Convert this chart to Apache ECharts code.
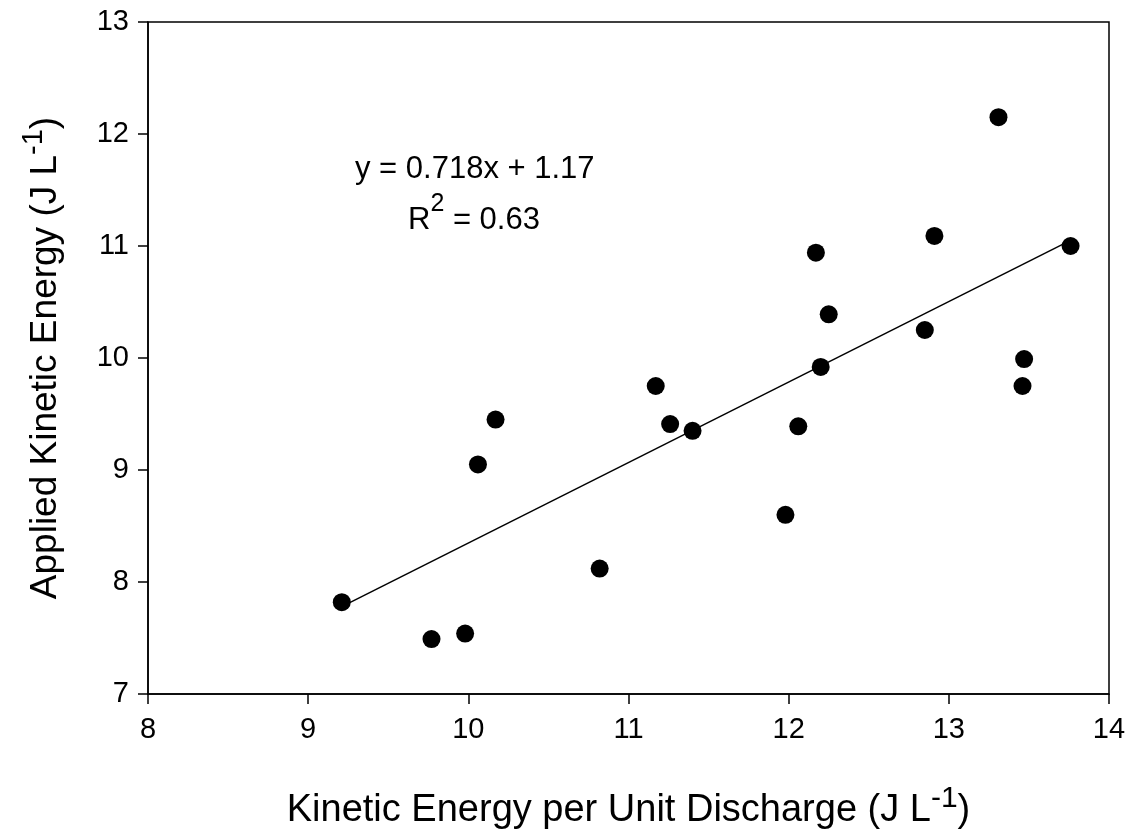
<!DOCTYPE html>
<html>
<head>
<meta charset="utf-8">
<script src="https://cdn.jsdelivr.net/npm/echarts@6/dist/echarts.min.js"></script>
<style>
html,body{margin:0;padding:0;background:#fff;}
#chart{width:1129px;height:837px;}
</style>
</head>
<body>
<div id="chart"></div>
<script>
// Data
const xValues = [9.21, 9.77, 9.98, 10.06, 10.17, 10.82, 11.17, 11.26, 11.40, 11.98, 12.06, 12.17, 12.20, 12.25, 12.85, 12.91, 13.31, 13.46, 13.47, 13.76];
const yValues = [7.82, 7.49, 7.54, 9.05, 9.45, 8.12, 9.75, 9.41, 9.35, 8.60, 9.39, 10.94, 9.92, 10.39, 10.25, 11.09, 12.15, 9.75, 9.99, 11.00];
const fitX = [9.21, 13.76];
const fitY = [7.78, 11.05];
const xTicks = [8, 9, 10, 11, 12, 13, 14];
const yTicks = [7, 8, 9, 10, 11, 12, 13];
const equationText = 'y = 0.718x + 1.17';
const r2Text = '0.63';

const points = xValues.map((x, i) => [x, yValues[i]]);
const fitLine = fitX.map((x, i) => [x, fitY[i]]);

const font = '"Liberation Sans", Arial, sans-serif';
const titleRich = (size) => ({
  t: {fontFamily: font, fontSize: size, color: '#000', verticalAlign: 'bottom', lineHeight: size + 8},
  s: {fontFamily: font, fontSize: Math.round(size * 0.78), color: '#000', verticalAlign: 'top', lineHeight: size + 8, padding: [0, 0, Math.round(size * 0.55), 0]}
});
const chart = echarts.init(document.getElementById('chart'), null, {renderer: 'canvas'});
chart.setOption({
  animation: false,
  backgroundColor: '#fff',
  grid: {left: 148, right: 20, top: 22, bottom: 143, outerBoundsMode: 'none', containLabel: false, show: true, borderColor: '#000', borderWidth: 1.5, backgroundColor: 'transparent'},
  xAxis: {
    type: 'value', min: xTicks[0], max: xTicks[xTicks.length - 1], interval: 1,
    axisLine: {show: true, onZero: false, lineStyle: {color: '#000', width: 1.5}},
    axisTick: {show: true, inside: false, length: 10, lineStyle: {color: '#000', width: 1.5}},
    axisLabel: {color: '#000', fontFamily: font, fontSize: 29, margin: 21},
    splitLine: {show: false},
    name: '{t|Kinetic Energy per Unit Discharge (J L}{s|-1}{t|)}',
    nameLocation: 'middle', nameGap: 90,
    nameTextStyle: {rich: titleRich(38)}
  },
  yAxis: {
    type: 'value', min: yTicks[0], max: yTicks[yTicks.length - 1], interval: 1,
    axisLine: {show: true, onZero: false, lineStyle: {color: '#000', width: 1.5}},
    axisTick: {show: true, inside: false, length: 10, lineStyle: {color: '#000', width: 1.5}},
    axisLabel: {color: '#000', fontFamily: font, fontSize: 29, margin: 19},
    splitLine: {show: false},
    name: '{t|Applied Kinetic Energy (J L}{s|-1}{t|)}',
    nameLocation: 'middle', nameGap: 84, nameRotate: 90,
    nameTextStyle: {rich: titleRich(37)}
  },
  graphic: [
    {type: 'text', left: 355, top: 154, style: {text: equationText, fontFamily: font, fontSize: 31, fill: '#000'}},
    {type: 'text', left: 408, top: 192, style: {
      text: '{t|R}{s|2}{t| = ' + r2Text + '}',
      rich: {
        t: {fontFamily: font, fontSize: 31, fill: '#000', verticalAlign: 'bottom', lineHeight: 44},
        s: {fontFamily: font, fontSize: 25, fill: '#000', verticalAlign: 'top', lineHeight: 44, padding: [0, 0, 16, 0]}
      }
    }}
  ],
  series: [
    {type: 'line', data: fitLine, showSymbol: false, symbol: 'none', lineStyle: {color: '#000', width: 1.5}, z: 2, silent: true},
    {type: 'scatter', data: points, symbol: 'circle', symbolSize: 18, itemStyle: {color: '#000', opacity: 1}, z: 3}
  ]
});
</script>
</body>
</html>
